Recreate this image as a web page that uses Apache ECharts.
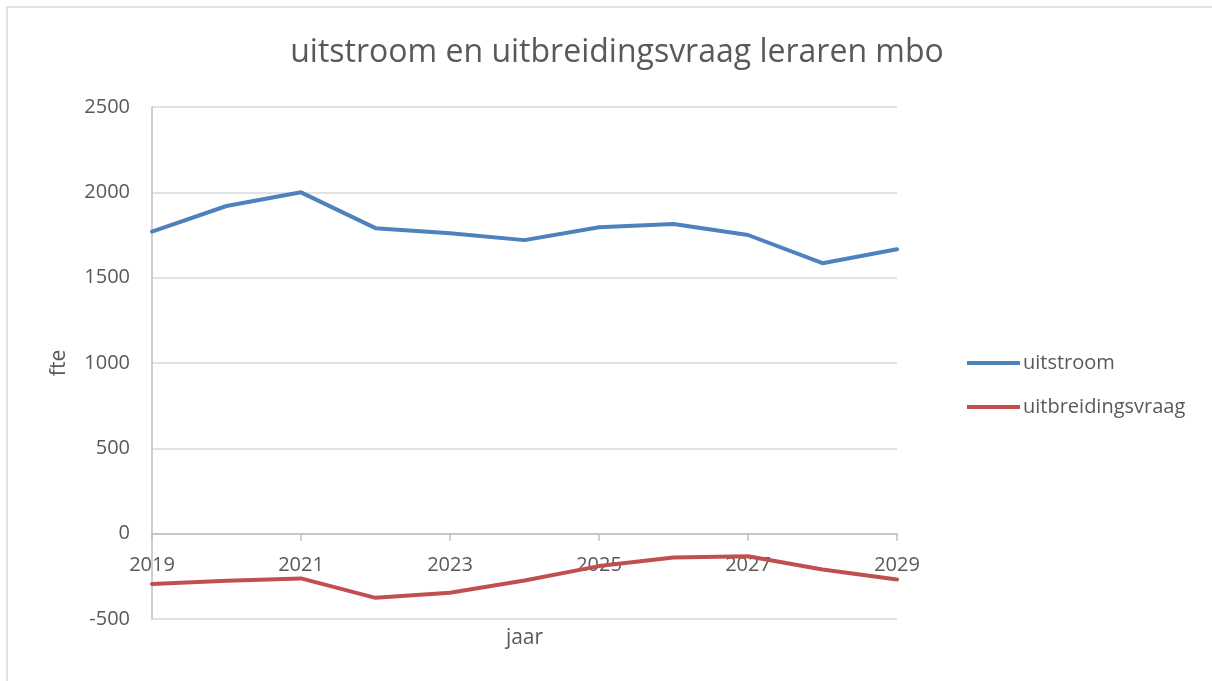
<!DOCTYPE html>
<html>
<head>
<meta charset="utf-8">
<script src="https://cdn.jsdelivr.net/npm/echarts@6/dist/echarts.min.js"></script>
<style>
  html, body { margin: 0; padding: 0; background: #fff; }
  #chart { width: 1212px; height: 681px; }
</style>
</head>
<body>
<div id="chart"></div>
<script>
// Years on the horizontal axis
const years = ['2019', '2020', '2021', '2022', '2023', '2024', '2025', '2026', '2027', '2028', '2029'];
// Outflow of mbo teachers (fte)
const uitstroom = [1770, 1920, 2000, 1790, 1760, 1720, 1795, 1815, 1750, 1585, 1667];
// Expansion demand (fte)
const uitbreidingsvraag = [-295, -276, -262, -376, -346, -274, -190, -140, -132, -210, -268];
// Value axis ticks
const yMin = -500, yMax = 2500, yStep = 500;

const textColor = '#595959';
const fontFamily = '"Open Sans", "Noto Sans", sans-serif';

// Plot box
const W = 1212, H = 681;
const grid = { left: 152, right: 315, top: 107, bottom: 62 };
const plotH = H - grid.top - grid.bottom;
// Lift the category axis from the bottom edge up to the zero line
const zeroOffset = -plotH * (0 - yMin) / (yMax - yMin);

const chart = echarts.init(document.getElementById('chart'), null, { renderer: 'canvas' });

chart.setOption({
  backgroundColor: '#ffffff',
  animation: false,
  textStyle: { fontFamily: fontFamily, color: textColor },
  graphic: [{
    type: 'rect',
    shape: { x: 7, y: 7, width: 1240, height: 700 },
    style: { fill: 'none', stroke: '#d9d9d9', lineWidth: 1.5 },
    silent: true
  }],
  title: {
    text: 'uitstroom en uitbreidingsvraag leraren mbo',
    left: 612,
    textAlign: 'center',
    top: 32,
    textStyle: { fontFamily: fontFamily, fontSize: 32, fontWeight: 'normal', color: textColor }
  },
  legend: {
    orient: 'vertical',
    left: 962,
    top: 348,
    itemWidth: 53,
    itemHeight: 4,
    itemGap: 24,
    icon: 'rect',
    textStyle: { fontFamily: fontFamily, fontSize: 20, color: textColor, padding: [0, 0, 0, -2] },
    data: ['uitstroom', 'uitbreidingsvraag']
  },
  grid: Object.assign({ containLabel: false, outerBoundsMode: 'none' }, grid),
  xAxis: {
    type: 'category',
    data: years,
    boundaryGap: false,
    position: 'bottom',
    offset: zeroOffset,
    name: 'jaar',
    nameLocation: 'middle',
    nameGap: 94,
    nameTextStyle: { fontFamily: fontFamily, fontSize: 21, color: textColor },
    axisLine: { onZero: false, lineStyle: { color: '#bfbfbf', width: 1.5 } },
    axisTick: { show: true, interval: 1, length: 7, lineStyle: { color: '#bfbfbf', width: 1.5 } },
    axisLabel: { interval: 1, margin: 22, fontSize: 20, color: textColor, fontFamily: fontFamily },
    splitLine: { show: false }
  },
  yAxis: {
    type: 'value',
    min: yMin,
    max: yMax,
    interval: yStep,
    name: 'fte',
    nameLocation: 'middle',
    nameGap: 82,
    nameRotate: 90,
    nameTextStyle: { fontFamily: fontFamily, fontSize: 21, color: textColor },
    axisLine: { show: true, lineStyle: { color: '#bfbfbf', width: 1.5 } },
    axisTick: { show: false },
    axisLabel: { margin: 22, fontSize: 20, color: textColor, fontFamily: fontFamily,
                 formatter: function (v) { return String(v); } },
    splitLine: { show: true, lineStyle: { color: '#d9d9d9', width: 1.5 } }
  },
  series: [
    {
      name: 'uitstroom',
      type: 'line',
      data: uitstroom,
      showSymbol: false,
      symbol: 'none',
      color: '#4f81bd',
      lineStyle: { color: '#4f81bd', width: 4, cap: 'round', join: 'round' }
    },
    {
      name: 'uitbreidingsvraag',
      type: 'line',
      data: uitbreidingsvraag,
      showSymbol: false,
      symbol: 'none',
      color: '#c0504d',
      lineStyle: { color: '#c0504d', width: 4, cap: 'round', join: 'round' }
    }
  ]
});
</script>
</body>
</html>
